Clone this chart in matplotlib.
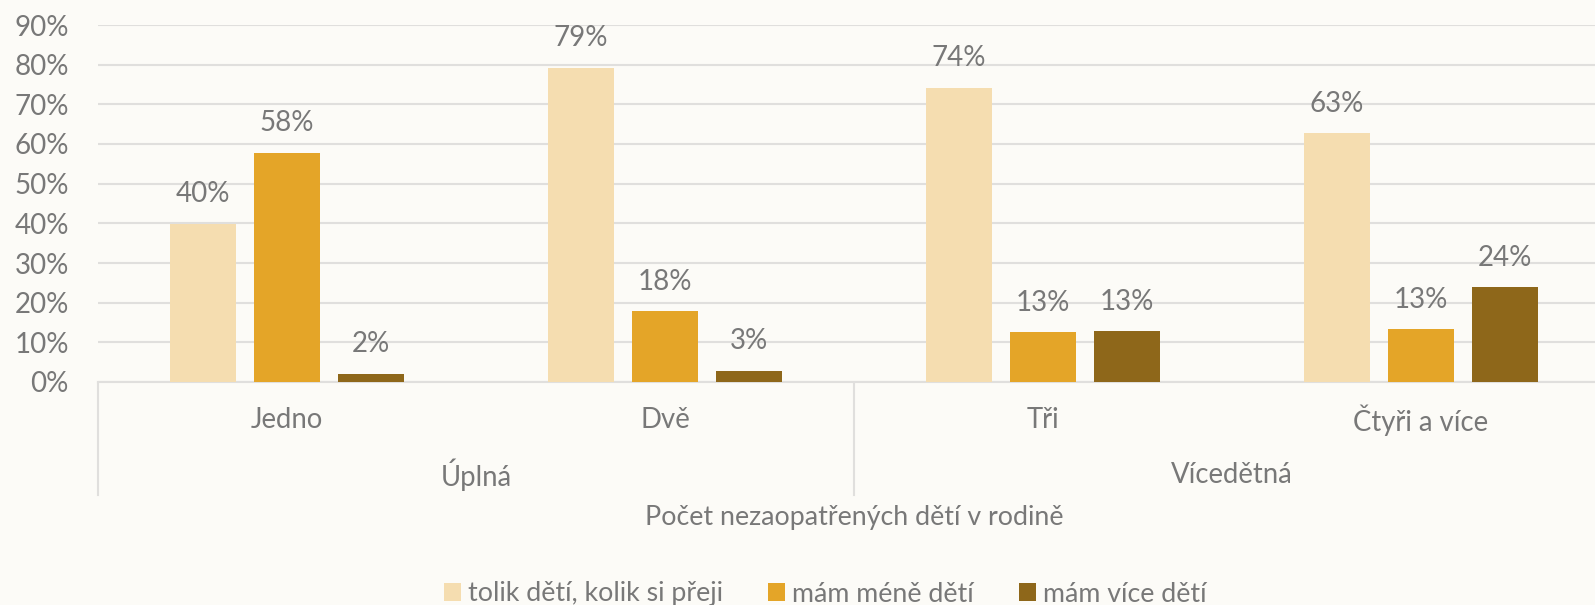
import matplotlib
matplotlib.use("Agg")
import matplotlib.pyplot as plt
import numpy as np

categories = ["Jedno", "Dvě", "Tři", "Čtyři a více"]
groups = ["Úplná", "Vícedětná"]
series_names = ["tolik dětí, kolik si přeji", "mám méně dětí", "mám více dětí"]
s_tolik = [39.8, 79.2, 74.2, 62.7]
s_mene = [57.7, 17.8, 12.5, 13.3]
s_vice = [2.1, 2.8, 12.8, 23.9]
labels_tolik = ["40%", "79%", "74%", "63%"]
labels_mene = ["58%", "18%", "13%", "13%"]
labels_vice = ["2%", "3%", "13%", "24%"]
yticks = [0, 10, 20, 30, 40, 50, 60, 70, 80, 90]
axis_title = "Počet nezaopatřených dětí v rodině"

colors = ["#f5ddb0", "#e4a528", "#8e671a"]
bg = "#fcfbf7"
grid_c = "#e0dfdd"
text_c = "#787878"

plt.rcParams['font.family'] = ['Lato', 'DejaVu Sans']

W, H = 1595, 605
fig = plt.figure(figsize=(W / 100, H / 100), dpi=100, facecolor=bg)

left_px, right_px, top_px, bot_px = 98, 1595, 25, 382
ax = fig.add_axes([left_px / W, 1 - bot_px / H, (right_px - left_px) / W, (bot_px - top_px) / H])
ax.set_facecolor(bg)

cat_w = 378.0
xmax = (right_px - left_px) / cat_w - 0.5
ax.set_xlim(-0.5, xmax)
ax.set_ylim(0, 90)

FS = 20
FS_CAT = 19.8
FS_TXT = 19.3

x = np.arange(len(categories))
bw = 66 / cat_w
step = 84 / cat_w
all_series = [(s_tolik, labels_tolik), (s_mene, labels_mene), (s_vice, labels_vice)]
for i, (vals, labs) in enumerate(all_series):
    pos = x + (i - 1) * step
    ax.bar(pos, vals, width=bw, color=colors[i], label=series_names[i], zorder=3)
    for p, v, l in zip(pos, vals, labs):
        ax.annotate(l, (p, v), xytext=(0, 12), textcoords="offset points",
                    ha="center", va="bottom", fontsize=FS, color=text_c)

ax.set_yticks(yticks)
ax.set_yticklabels([f"{t}%" for t in yticks], fontsize=FS, color=text_c)
ax.tick_params(axis="y", length=0, pad=21)
ax.yaxis.grid(True, color=grid_c, linewidth=1.5, zorder=0)
ax.set_xticks([])
for s in ["top", "right", "left"]:
    ax.spines[s].set_visible(False)
ax.spines["bottom"].set_color(grid_c)
ax.spines["bottom"].set_linewidth(1.5)

def fx(px):
    return px / W

def fy(py):
    return 1 - py / H

for xd in [-0.5, 1.5, 3.5]:
    xp = left_px + (xd + 0.5) * cat_w
    if xp <= W:
        fig.add_artist(plt.Line2D([fx(xp), fx(xp)], [fy(383), fy(495)],
                                  color=grid_c, linewidth=1.5))

for xi, c in zip(x, categories):
    xp = left_px + (xi + 0.5) * cat_w
    fig.text(fx(xp), fy(420), c, ha="center", va="center", fontsize=FS_CAT, color=text_c)

for gi, g in enumerate(groups):
    xp = left_px + (2 * gi + 1) * cat_w
    fig.text(fx(xp), fy(475), g, ha="center", va="center", fontsize=FS_CAT, color=text_c)

fig.text(fx(left_px + 2 * cat_w), fy(517), axis_title, ha="center", va="center",
         fontsize=FS_TXT, color=text_c)

handles, labs = ax.get_legend_handles_labels()
leg = fig.legend(handles, labs, loc="center", bbox_to_anchor=(fx(825), fy(594)),
                 ncol=3, frameon=False, fontsize=FS_TXT, handlelength=0.64, handleheight=0.64,
                 handletextpad=0.26, columnspacing=1.68, labelcolor=text_c,
                 borderpad=0, borderaxespad=0)

fig.savefig("out.png", dpi=100, facecolor=bg)
